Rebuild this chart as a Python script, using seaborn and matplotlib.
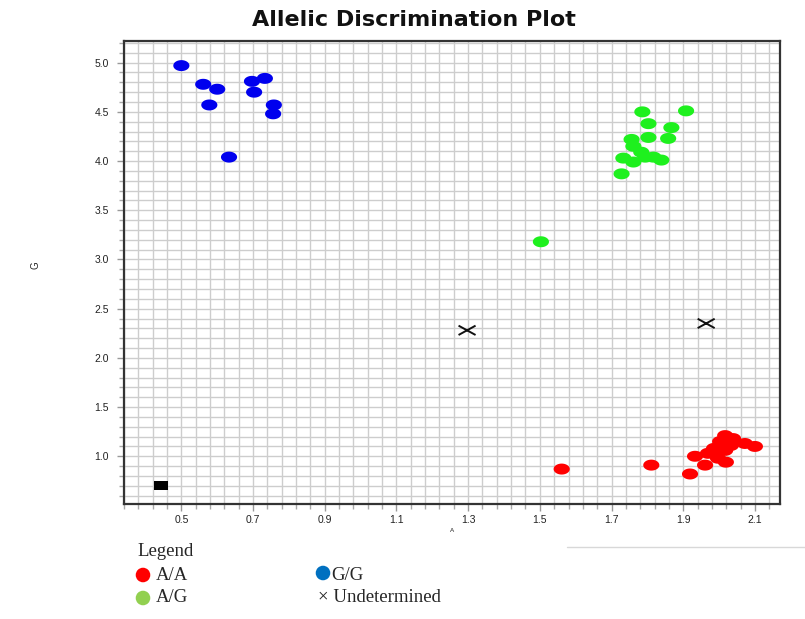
import numpy as np
import pandas as pd
import matplotlib
matplotlib.use("Agg")
import matplotlib.pyplot as plt
from matplotlib.path import Path
from matplotlib.ticker import FixedLocator
import seaborn as sns

# ---------------- data ----------------
gg_x = [0.500, 0.561, 0.600, 0.578, 0.633, 0.697, 0.733, 0.703, 0.758, 0.756]
gg_y = [4.97, 4.78, 4.73, 4.57, 4.04, 4.81, 4.84, 4.70, 4.57, 4.48]

ag_x = [1.786, 1.908, 1.803, 1.867, 1.756, 1.803, 1.858, 1.761, 1.783, 1.733,
        1.761, 1.794, 1.817, 1.839, 1.728, 1.503]
ag_y = [4.50, 4.51, 4.38, 4.34, 4.22, 4.24, 4.23, 4.15, 4.09, 4.03,
        3.99, 4.04, 4.04, 4.01, 3.87, 3.18]

aa_x = [2.017, 2.039, 2.003, 2.033, 2.072, 2.100, 1.986, 2.017, 1.969, 1.933,
        1.997, 2.019, 1.961, 1.919, 1.561, 1.811]
aa_y = [1.21, 1.18, 1.15, 1.11, 1.13, 1.10, 1.08, 1.06, 1.03, 1.00,
        0.98, 0.94, 0.91, 0.82, 0.87, 0.91]

und_x = [1.297, 1.964]
und_y = [2.28, 2.35]

ntc_x = [0.444]
ntc_y = [0.70]

x_ticks = [0.5, 0.7, 0.9, 1.1, 1.3, 1.5, 1.7, 1.9, 2.1]
y_ticks = [1.0, 1.5, 2.0, 2.5, 3.0, 3.5, 4.0, 4.5, 5.0]
x_lim = (0.34, 2.17)
y_lim = (0.515, 5.22)

legend_labels = ["A/A", "A/G", "G/G", "Undetermined"]

# ---------------- style ----------------
sns.set_style("white")
plt.rcParams["font.family"] = ["Liberation Sans", "DejaVu Sans"]

fig = plt.figure(figsize=(8.05, 6.19), dpi=100)
W, H = 805, 619
ax = fig.add_axes([124 / W, 1 - 504 / H, (780 - 124) / W, (504 - 41) / H])

# custom markers
t = np.linspace(0, 2 * np.pi, 60)
ellipse = Path(np.column_stack([np.cos(t), 0.68 * np.sin(t)]), closed=True)
rect = Path([(-1, -0.64), (1, -0.64), (1, 0.64), (-1, 0.64), (-1, -0.64)], closed=True)
xmark = Path([(-1, -0.55), (1, 0.55), (-1, 0.55), (1, -0.55)],
             [Path.MOVETO, Path.LINETO, Path.MOVETO, Path.LINETO])

df_gg = pd.DataFrame({"A": gg_x, "G": gg_y})
df_ag = pd.DataFrame({"A": ag_x, "G": ag_y})
df_aa = pd.DataFrame({"A": aa_x, "G": aa_y})
df_und = pd.DataFrame({"A": und_x, "G": und_y})
df_ntc = pd.DataFrame({"A": ntc_x, "G": ntc_y})

sns.scatterplot(data=df_gg, x="A", y="G", ax=ax, marker=ellipse, s=135,
                color="#0000ee", edgecolor="none", zorder=3)
sns.scatterplot(data=df_ag, x="A", y="G", ax=ax, marker=ellipse, s=135,
                color="#1ef01e", edgecolor="none", zorder=3)
sns.scatterplot(data=df_aa, x="A", y="G", ax=ax, marker=ellipse, s=135,
                color="#ff0000", edgecolor="none", zorder=3)
sns.scatterplot(data=df_und, x="A", y="G", ax=ax, marker=xmark, s=150,
                facecolor="none", edgecolor="#111111", linewidth=1.4, zorder=3)
sns.scatterplot(data=df_ntc, x="A", y="G", ax=ax, marker=rect, s=105,
                color="black", edgecolor="none", zorder=3)

ax.set_xlim(*x_lim)
ax.set_ylim(*y_lim)
ax.xaxis.set_major_locator(FixedLocator(x_ticks))
ax.yaxis.set_major_locator(FixedLocator(y_ticks))
ax.xaxis.set_minor_locator(FixedLocator(np.arange(0.34, 2.18, 0.04)))
ax.yaxis.set_minor_locator(FixedLocator(np.arange(0.6, 5.25, 0.1)))
ax.set_xticklabels([f"{v:.1f}" for v in x_ticks])
ax.set_yticklabels([f"{v:.1f}" for v in y_ticks])
ax.grid(True, which="both", color="#cdcdcd", linewidth=1.0, zorder=0)
ax.set_axisbelow(True)
ax.tick_params(axis="both", which="major", length=5, width=1, color="#999999",
               labelsize=7.5, labelcolor="#222222")
ax.tick_params(axis="x", which="major", pad=3)
ax.tick_params(axis="y", which="major", pad=6)
ax.tick_params(axis="both", which="minor", length=3.5, width=1, color="#aaaaaa")
ax.tick_params(axis="x", which="both", bottom=True)
ax.tick_params(axis="y", which="both", left=True)
for s in ax.spines.values():
    s.set_color("#333333")
    s.set_linewidth(1.6)
ax.set_xlabel("")
ax.set_ylabel("")

fig.text(414 / W, 1 - 20 / H, "Allelic Discrimination Plot", ha="center", va="center",
         fontsize=16, fontweight="bold", color="#111111", family=["DejaVu Sans"])
fig.text(35 / W, 1 - 265 / H, "G", rotation=90, ha="center", va="center", fontsize=7)
fig.text(452 / W, 1 - 531 / H, "A", ha="center", va="center", fontsize=4.5)

# ---------------- legend (figure overlay) ----------------
lax = fig.add_axes([0, 0, 1, 1], zorder=5)
lax.set_xlim(0, W)
lax.set_ylim(H, 0)
lax.axis("off")
lax.patch.set_alpha(0)
serif = ["Liberation Serif", "DejaVu Serif"]
fs = 13.5
lax.plot([567, 805], [547, 547], color="#d8d8d8", linewidth=1)
lax.text(137, 552, "Legend", family=serif, fontsize=fs, va="center", ha="left")
lax.scatter([143], [575], s=110, color="#ff0000", edgecolor="none")
lax.text(156, 576, legend_labels[0], family=serif, fontsize=fs, va="center", ha="left")
lax.scatter([143], [598], s=110, color="#92d050", edgecolor="none")
lax.text(156, 598, legend_labels[1], family=serif, fontsize=fs, va="center", ha="left")
lax.scatter([323], [573], s=110, color="#0070c0", edgecolor="none")
lax.text(331, 576, legend_labels[2], family=serif, fontsize=fs, va="center", ha="left")
lax.text(318, 598, "\u00d7 " + legend_labels[3], family=serif, fontsize=fs,
         va="center", ha="left")

fig.savefig("out.png", dpi=100, facecolor="white")
